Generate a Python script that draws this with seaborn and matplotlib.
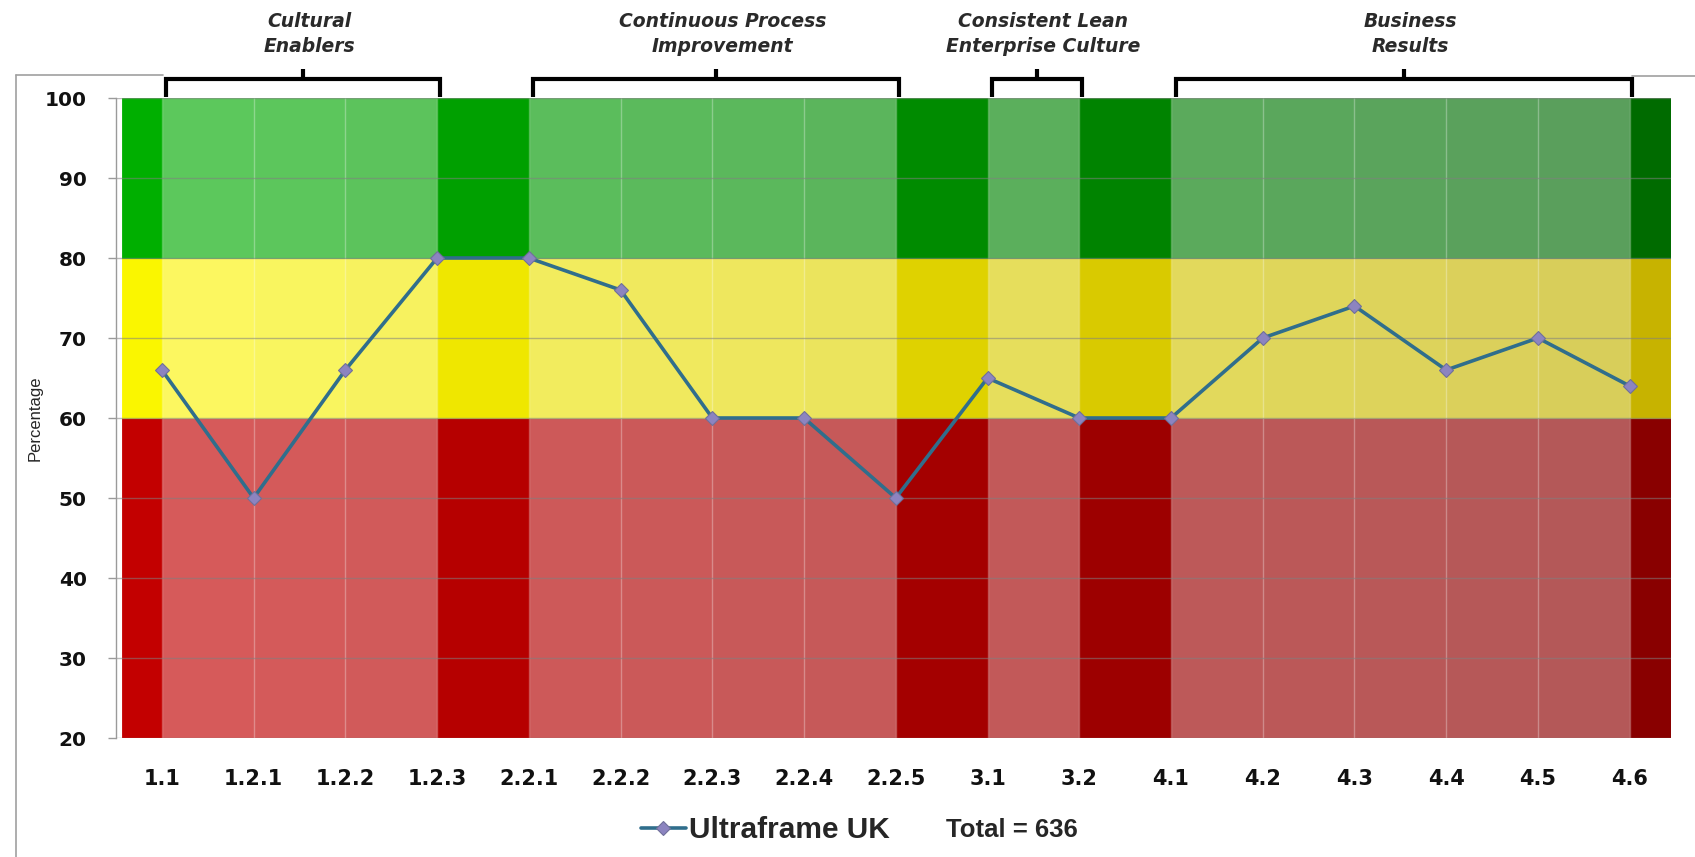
import numpy as np
import matplotlib
matplotlib.use('Agg')
import matplotlib.pyplot as plt
from matplotlib.lines import Line2D
from matplotlib.colors import to_rgb
import seaborn as sns

# ---- data ----
categories = ['1.1', '1.2.1', '1.2.2', '1.2.3', '2.2.1', '2.2.2', '2.2.3', '2.2.4', '2.2.5',
              '3.1', '3.2', '4.1', '4.2', '4.3', '4.4', '4.5', '4.6']
scores = [66, 50, 66, 80, 80, 76, 60, 60, 50, 65, 60, 60, 70, 74, 66, 70, 64]
series_name = 'Ultraframe UK'
total_text = 'Total = 636'

band_limits = [20, 60, 80, 100]          # red / yellow / green zones
y_ticks = [20, 30, 40, 50, 60, 70, 80, 90, 100]

group_titles = ['Cultural\nEnablers', 'Continuous Process\nImprovement',
                'Consistent Lean\nEnterprise Culture', 'Business\nResults']
group_first = ['1.1', '2.2.1', '3.1', '4.1']
group_last = ['1.2.3', '2.2.5', '3.2', '4.6']

# ---- zone colours, left edge -> right edge ----
light_left = ['#d85a5a', '#fefa60', '#5ccb5c']
light_right = ['#b25858', '#d6cb5a', '#5a9c5c']
dark_left = ['#c40000', '#fbf700', '#00b000']
dark_right = ['#880000', '#c6b200', '#006a00']

XMIN, XMAX = -0.5, 16.45
FILL_LEFT = -0.44


def blend(c0, c1, t):
    a, b = np.array(to_rgb(c0)), np.array(to_rgb(c1))
    return tuple(a + (b - a) * t)


def fill_column(ax, x0, x1, left_cols, right_cols):
    t = ((x0 + x1) / 2 - FILL_LEFT) / (XMAX - FILL_LEFT)
    for i in range(3):
        lo, hi = band_limits[i], band_limits[i + 1]
        c = blend(left_cols[i], right_cols[i], t)
        ax.bar((x0 + x1) / 2, hi - lo, bottom=lo, width=x1 - x0, color=c,
               edgecolor=c, linewidth=0.6, zorder=0.5)


sns.set_style('white')
plt.rcParams['font.family'] = ['DejaVu Sans']

W, H = 1695, 857
fig = plt.figure(figsize=(W / 100, H / 100), dpi=100)
ax = fig.add_axes([116 / W, (H - 738) / H, 1555 / W, 640 / H])

pos = {c: i for i, c in enumerate(categories)}
firsts = [pos[c] for c in group_first]
lasts = [pos[c] for c in group_last]

# light columns inside the groups
for a, b in zip(firsts, lasts):
    for x0 in range(a, b):
        fill_column(ax, x0, x0 + 1, light_left, light_right)

# dark separator columns between groups and at both edges
gaps = [(FILL_LEFT, firsts[0])] + list(zip(lasts[:-1], firsts[1:])) + [(lasts[-1], XMAX)]
for x0, x1 in gaps:
    fill_column(ax, x0, x1, dark_left, dark_right)

# the score line
line_style = dict(color='#306e8c', linewidth=2.6, marker='D', markersize=7,
                  markerfacecolor='#8c84c0', markeredgecolor='#70709a', markeredgewidth=0.8)
x = np.arange(len(categories))
sns.lineplot(x=x, y=scores, ax=ax, zorder=4, legend=False, **line_style)

ax.set_xlim(XMIN, XMAX)
ax.set_ylim(band_limits[0], band_limits[-1])
ax.set_yticks(y_ticks)
ax.set_xticks(x)
ax.set_xticklabels(categories)
ax.grid(axis='y', color='#808080', alpha=0.55, linewidth=1)
ax.grid(axis='x', color='white', alpha=0.3, linewidth=1)

for s in ['top', 'right', 'bottom']:
    ax.spines[s].set_visible(False)
ax.spines['left'].set_color('#9a9a9a')
ax.spines['left'].set_linewidth(1)
ax.tick_params(axis='y', length=6, width=1, color='#9a9a9a', pad=15,
               labelsize=14.5, left=True)
ax.tick_params(axis='x', length=0, pad=22, labelsize=15)
for lab in ax.get_yticklabels() + ax.get_xticklabels():
    lab.set_fontweight('bold')
    lab.set_color('#111111')

ax.set_ylabel('Percentage', fontsize=12, family=['Liberation Sans'], va='center')
ax.yaxis.set_label_coords(-0.052, 0.5)

# brackets with group titles above the plot
tr = ax.get_xaxis_transform()
for title, a, b in zip(group_titles, firsts, lasts):
    x0, x1 = a + 0.05, b + 0.03
    xm = (x0 + x1) / 2
    ax.plot([x0, x0, x1, x1], [1.0016, 1.0297, 1.0297, 1.0016], transform=tr,
            color='black', linewidth=3, clip_on=False, solid_joinstyle='miter',
            solid_capstyle='butt', zorder=5)
    ax.plot([xm, xm], [1.0297, 1.045], transform=tr, color='black', linewidth=3,
            clip_on=False, solid_capstyle='butt', zorder=5)
    for txt, yy in zip(title.split('\n'), [1.119, 1.080]):
        ax.text(xm + 0.07, yy, txt, transform=tr, ha='center', va='center',
                fontsize=13.5, fontweight='bold', fontstyle='italic', color='#2a2a2a')

# outer chart border (partly hidden behind the brackets)
fig.add_artist(Line2D([16 / W, 16 / W], [0, 1 - 75 / H], color='#a0a0a0', linewidth=1.2))
fig.add_artist(Line2D([16 / W, 163 / W], [1 - 75 / H, 1 - 75 / H], color='#a0a0a0', linewidth=1.2))
fig.add_artist(Line2D([1632 / W, 1], [1 - 76 / H, 1 - 76 / H], color='#a0a0a0', linewidth=1.2))

# legend + total
handle = Line2D([], [], **line_style)
fig.legend([handle], [series_name], loc='center', bbox_to_anchor=(765 / W, 1 - 830 / H),
           frameon=False, prop={'family': 'Liberation Sans', 'weight': 'bold', 'size': 21.5},
           handlelength=1.5, handletextpad=0.1)
fig.text(946 / W, 1 - 830 / H, total_text, ha='left', va='center',
         family='Liberation Sans', fontweight='bold', fontsize=18.5)

fig.savefig('out.png', dpi=100, facecolor='white')
